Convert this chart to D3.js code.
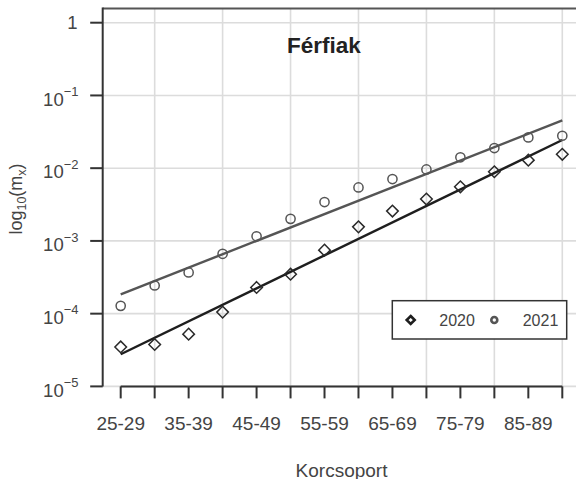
<!DOCTYPE html>
<html><head><meta charset="utf-8">
<script src="https://cdn.jsdelivr.net/npm/d3@7/dist/d3.min.js"></script>
<style>html,body{margin:0;padding:0;background:#fff;}svg{display:block;font-family:"Liberation Sans",Arial,sans-serif;}</style>
</head><body>
<script>
const categories = ["25-29","30-34","35-39","40-44","45-49","50-54","55-59","60-64","65-69","70-74","75-79","80-84","85-89","90-94"];
const values2020 = [3.49e-5,3.77e-5,5.23e-5,1.05e-4,2.29e-4,3.49e-4,7.47e-4,1.56e-3,2.57e-3,3.76e-3,5.55e-3,8.93e-3,1.29e-2,1.55e-2];
const values2021 = [1.28e-4,2.44e-4,3.69e-4,6.65e-4,1.16e-3,2.01e-3,3.42e-3,5.44e-3,7.08e-3,9.6e-3,1.41e-2,1.89e-2,2.65e-2,2.79e-2];
const fitCats = ["25-29","90-94"];
const fit2020 = [2.77e-5, 2.44e-2];
const fit2021 = [1.84e-4, 4.55e-2];
const yTicks = [1,1e-1,1e-2,1e-3,1e-4,1e-5];
const xLabelCats = ["25-29","35-39","45-49","55-59","65-69","75-79","85-89"];
const xGridCats = ["30-34","40-44","50-54","60-64","70-74","80-84","90-94"];
const seriesNames = ["2020","2021"];

(function(){
const W=576,H=479;
const svg=d3.select("body").append("svg").attr("width",W).attr("height",H);
const x=d3.scalePoint().domain(categories).range([120.7,562.3]);
const y=d3.scaleLog().domain([1e-5,1]).range([386.4,22.7]);
const pL=102.7, pT=8.5, pR=580, pB=386.4;

// grid
const g=svg.append("g");
g.selectAll(".hg").data(yTicks).join("line")
 .attr("x1",pL).attr("x2",pR).attr("y1",d=>y(d)).attr("y2",d=>y(d))
 .attr("stroke","#dcdcdc").attr("stroke-width",1.6);
g.selectAll(".vg").data(xGridCats).join("line")
 .attr("x1",d=>x(d)).attr("x2",d=>x(d)).attr("y1",pT).attr("y2",pB)
 .attr("stroke","#dcdcdc").attr("stroke-width",1.6);

// top border
svg.append("line").attr("x1",pL).attr("x2",pR).attr("y1",pT).attr("y2",pT)
 .attr("stroke","#555").attr("stroke-width",2);

// fit lines
const line=d3.line().x(d=>x(d[0])).y(d=>y(d[1]));
svg.append("path").datum(fitCats.map((c,i)=>[c,fit2021[i]])).attr("d",line)
 .attr("fill","none").attr("stroke","#555").attr("stroke-width",2.4);
svg.append("path").datum(fitCats.map((c,i)=>[c,fit2020[i]])).attr("d",line)
 .attr("fill","none").attr("stroke","#1e1e1e").attr("stroke-width",2.4);

// points
const diamond=(cx,cy,r)=>`M${cx},${cy-r}L${cx+r},${cy}L${cx},${cy+r}L${cx-r},${cy}Z`;
svg.selectAll(".c21").data(categories).join("circle")
 .attr("cx",d=>x(d)).attr("cy",(d,i)=>y(values2021[i])).attr("r",4.6)
 .attr("fill","none").attr("stroke","#555").attr("stroke-width",1.5);
svg.selectAll(".d20").data(categories).join("path")
 .attr("d",(d,i)=>diamond(x(d),y(values2020[i]),5.8))
 .attr("fill","none").attr("stroke","#2a2a2a").attr("stroke-width",1.5);

// y axis
const ya=svg.append("g");
ya.append("line").attr("x1",pL).attr("x2",pL).attr("y1",pT-1).attr("y2",pB)
 .attr("stroke","#333").attr("stroke-width",2);
ya.selectAll(".yt").data(yTicks).join("line")
 .attr("x1",pL-12.5).attr("x2",pL).attr("y1",d=>y(d)).attr("y2",d=>y(d))
 .attr("stroke","#333").attr("stroke-width",2);
yTicks.forEach(d=>{
  const e=Math.round(Math.log10(d));
  if(e===0){
    ya.append("text").attr("x",77.5).attr("y",y(d)+6.5).attr("text-anchor","end")
      .attr("font-size",18.5).attr("fill","#444").text("1");
  } else {
    const t=ya.append("text").attr("x",78.5).attr("y",y(d)+10.3).attr("text-anchor","end")
      .attr("fill","#444").attr("font-size",18.5);
    t.append("tspan").text("10");
    t.append("tspan").attr("dy",-9.5).attr("font-size",13).text("\u2212"+(-e));
  }
});

// x axis
const xa=svg.append("g");
xa.append("line").attr("x1",x(categories[0])).attr("x2",x(categories[categories.length-1]))
 .attr("y1",pB).attr("y2",pB).attr("stroke","#333").attr("stroke-width",2);
xa.selectAll(".xt").data(categories).join("line")
 .attr("x1",d=>x(d)).attr("x2",d=>x(d)).attr("y1",pB).attr("y2",pB+12)
 .attr("stroke","#333").attr("stroke-width",2);
xa.selectAll(".xl").data(xLabelCats).join("text")
 .attr("x",d=>x(d)).attr("y",430).attr("text-anchor","middle")
 .attr("font-size",19).attr("fill","#444").text(d=>d);

// axis titles
svg.append("text").attr("x",341.5).attr("y",476.5).attr("text-anchor","middle")
 .attr("font-size",19).attr("fill","#444").text("Korcsoport");
const yt=svg.append("text").attr("transform","translate(21.5,199) rotate(-90)")
 .attr("text-anchor","middle").attr("font-size",18).attr("fill","#444");
yt.append("tspan").text("log");
yt.append("tspan").attr("dy",4).attr("font-size",12.5).text("10");
yt.append("tspan").attr("dy",-4).text("(m");
yt.append("tspan").attr("dy",4).attr("font-size",12.5).text("x");
yt.append("tspan").attr("dy",-4).text(")");

// title
svg.append("text").attr("x",324).attr("y",53).attr("text-anchor","middle")
 .attr("font-size",22.5).attr("font-weight","bold").attr("fill","#222").text("Férfiak");

// legend
const lg=svg.append("g");
lg.append("rect").attr("x",392.3).attr("y",300.7).attr("width",174.4).attr("height",38.3)
 .attr("fill","#fff").attr("stroke","#333").attr("stroke-width",1.5);
lg.append("path").attr("d",diamond(410.7,320,4)).attr("fill","none").attr("stroke","#1e1e1e").attr("stroke-width",2.6);
lg.append("circle").attr("cx",494.3).attr("cy",320).attr("r",3).attr("fill","none").attr("stroke","#555").attr("stroke-width",2.6);
lg.append("text").attr("x",439.3).attr("y",326).attr("font-size",16).attr("fill","#444").text(seriesNames[0]);
lg.append("text").attr("x",522.7).attr("y",326).attr("font-size",16).attr("fill","#444").text(seriesNames[1]);
})();
</script>
</body></html>
